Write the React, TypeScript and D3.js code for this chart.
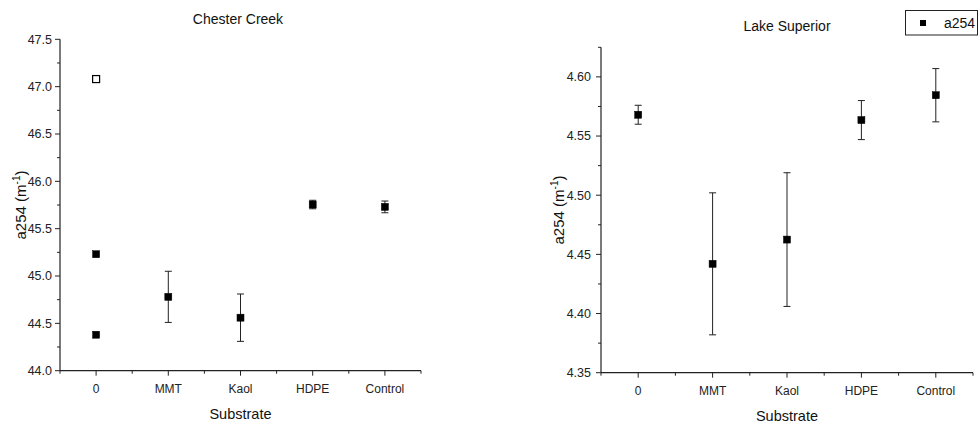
import React from "react";
import * as d3 from "d3";

const categories = ["0", "MMT", "Kaol", "HDPE", "Control"];

// Chester Creek: individual points / means with standard errors
const chesterCats = ["0", "0", "0", "MMT", "Kaol", "HDPE", "Control"];
const chesterMeans = [47.08, 45.23, 44.38, 44.78, 44.56, 45.755, 45.73];
const chesterErr = [0, 0, 0, 0.27, 0.25, 0.045, 0.062];
const chesterHollow = [true, false, false, false, false, false, false];
const chesterTicks = [44.0, 44.5, 45.0, 45.5, 46.0, 46.5, 47.0, 47.5];

// Lake Superior
const lakeCats = ["0", "MMT", "Kaol", "HDPE", "Control"];
const lakeMeans = [4.568, 4.442, 4.4625, 4.5635, 4.5845];
const lakeErr = [0.008, 0.06, 0.0565, 0.0165, 0.0225];
const lakeHollow = [false, false, false, false, false];
const lakeTicks = [4.35, 4.4, 4.45, 4.5, 4.55, 4.6];

const FONT = "'Liberation Sans', Arial, sans-serif";
const AX = "#222";

type PanelProps = {
  title: string;
  titleX: number;
  titleY: number;
  left: number;
  right: number;
  top: number;
  bottom: number;
  yDomain: [number, number];
  yTicks: number[];
  yMinorStep: number;
  fmt: string;
  cats: string[];
  means: number[];
  errs: number[];
  hollow: boolean[];
  yLabelX: number;
  yLabelY: number;
  labelGap: number;
};

function Panel(p: PanelProps) {
  const x = d3.scaleBand<string>().domain(categories).range([p.left, p.right]).padding(0);
  const y = d3.scaleLinear().domain(p.yDomain).range([p.bottom, p.top]);
  const cx = (c: string) => (x(c) as number) + x.bandwidth() / 2;
  const f = d3.format(p.fmt);
  const minors: number[] = [];
  const n = Math.round((p.yDomain[1] - p.yDomain[0]) / p.yMinorStep);
  for (let i = 0; i <= n; i++) {
    const v = p.yDomain[0] + i * p.yMinorStep;
    if (!p.yTicks.some((t) => Math.abs(t - v) < 1e-9)) minors.push(v);
  }
  const xMinor = [p.left, ...categories.map((c) => (x(c) as number) + x.bandwidth())];
  const sq = 7;
  const cap = 3.5;
  const midX = (p.left + p.right) / 2;
  return (
    <g fontFamily={FONT}>
      <text x={p.titleX} y={p.titleY} textAnchor="middle" fontSize={14} fill="#111">
        {p.title}
      </text>
      {/* y axis */}
      <line x1={p.left} x2={p.left} y1={p.top} y2={p.bottom} stroke={AX} strokeWidth={1.2} />
      {p.yTicks.map((t) => (
        <g key={"yt" + t}>
          <line x1={p.left - 5} x2={p.left} y1={y(t)} y2={y(t)} stroke={AX} strokeWidth={1} />
          <text x={p.left - p.labelGap} y={y(t)} dy="0.35em" textAnchor="end" fontSize={12.5} fill="#222">
            {f(t)}
          </text>
        </g>
      ))}
      {minors.map((t) => (
        <line key={"ym" + t} x1={p.left - 3} x2={p.left} y1={y(t)} y2={y(t)} stroke={AX} strokeWidth={1} />
      ))}
      {/* x axis */}
      <line x1={p.left} x2={p.right} y1={p.bottom} y2={p.bottom} stroke={AX} strokeWidth={1.2} />
      {categories.map((c) => (
        <g key={"xt" + c}>
          <line x1={cx(c)} x2={cx(c)} y1={p.bottom} y2={p.bottom + 5} stroke={AX} strokeWidth={1} />
          <text x={cx(c)} y={p.bottom + 22.5} textAnchor="middle" fontSize={12} fill="#222">
            {c}
          </text>
        </g>
      ))}
      {xMinor.map((v, i) => (
        <line key={"xm" + i} x1={v} x2={v} y1={p.bottom} y2={p.bottom + 3} stroke={AX} strokeWidth={1} />
      ))}
      <text x={midX} y={p.bottom + 48} textAnchor="middle" fontSize={14.5} fill="#111">
        Substrate
      </text>
      <text
        transform={`translate(${p.yLabelX},${p.yLabelY}) rotate(-90)`}
        textAnchor="middle"
        fontSize={15}
        fill="#111"
      >
        a254 (m
        <tspan fontSize={10} dy={-6}>
          -1
        </tspan>
        <tspan dy={6}>)</tspan>
      </text>
      {/* data */}
      {p.means.map((m, i) => {
        const xc = cx(p.cats[i]);
        const e = p.errs[i];
        return (
          <g key={"d" + i}>
            {e > 0 && (
              <g stroke="#222" strokeWidth={1}>
                <line x1={xc} x2={xc} y1={y(m - e)} y2={y(m + e)} />
                <line x1={xc - cap} x2={xc + cap} y1={y(m + e)} y2={y(m + e)} />
                <line x1={xc - cap} x2={xc + cap} y1={y(m - e)} y2={y(m - e)} />
              </g>
            )}
            <rect
              x={xc - sq / 2}
              y={y(m) - sq / 2}
              width={sq}
              height={sq}
              fill={p.hollow[i] ? "#fff" : "#000"}
              stroke="#000"
              strokeWidth={p.hollow[i] ? 1.2 : 0.5}
            />
          </g>
        );
      })}
    </g>
  );
}

export default function App() {
  return (
    <svg width={979} height={423} style={{ position: "absolute", left: 0, top: 0, background: "#fff" }}>
      <rect width={979} height={423} fill="#fff" />
      <Panel
        title="Chester Creek"
        titleX={238}
        titleY={24}
        left={60}
        right={421}
        top={39.3}
        bottom={370.7}
        yDomain={[44.0, 47.5]}
        yTicks={chesterTicks}
        yMinorStep={0.25}
        fmt=".1f"
        cats={chesterCats}
        means={chesterMeans}
        errs={chesterErr}
        hollow={chesterHollow}
        yLabelX={26}
        yLabelY={205}
        labelGap={8}
      />
      <Panel
        title="Lake Superior"
        titleX={787}
        titleY={31}
        left={601}
        right={973}
        top={47.3}
        bottom={372.7}
        yDomain={[4.35, 4.625]}
        yTicks={lakeTicks}
        yMinorStep={0.025}
        fmt=".2f"
        cats={lakeCats}
        means={lakeMeans}
        errs={lakeErr}
        hollow={lakeHollow}
        yLabelX={564}
        yLabelY={210}
        labelGap={10}
      />
      {/* legend */}
      <g fontFamily={FONT}>
        <rect x={905.5} y={10.5} width={72} height={24.5} fill="#fff" stroke="#222" strokeWidth={1} />
        <rect x={920} y={20} width={6} height={6} fill="#000" />
        <text x={944} y={28} fontSize={14} fill="#111">
          a254
        </text>
      </g>
    </svg>
  );
}
